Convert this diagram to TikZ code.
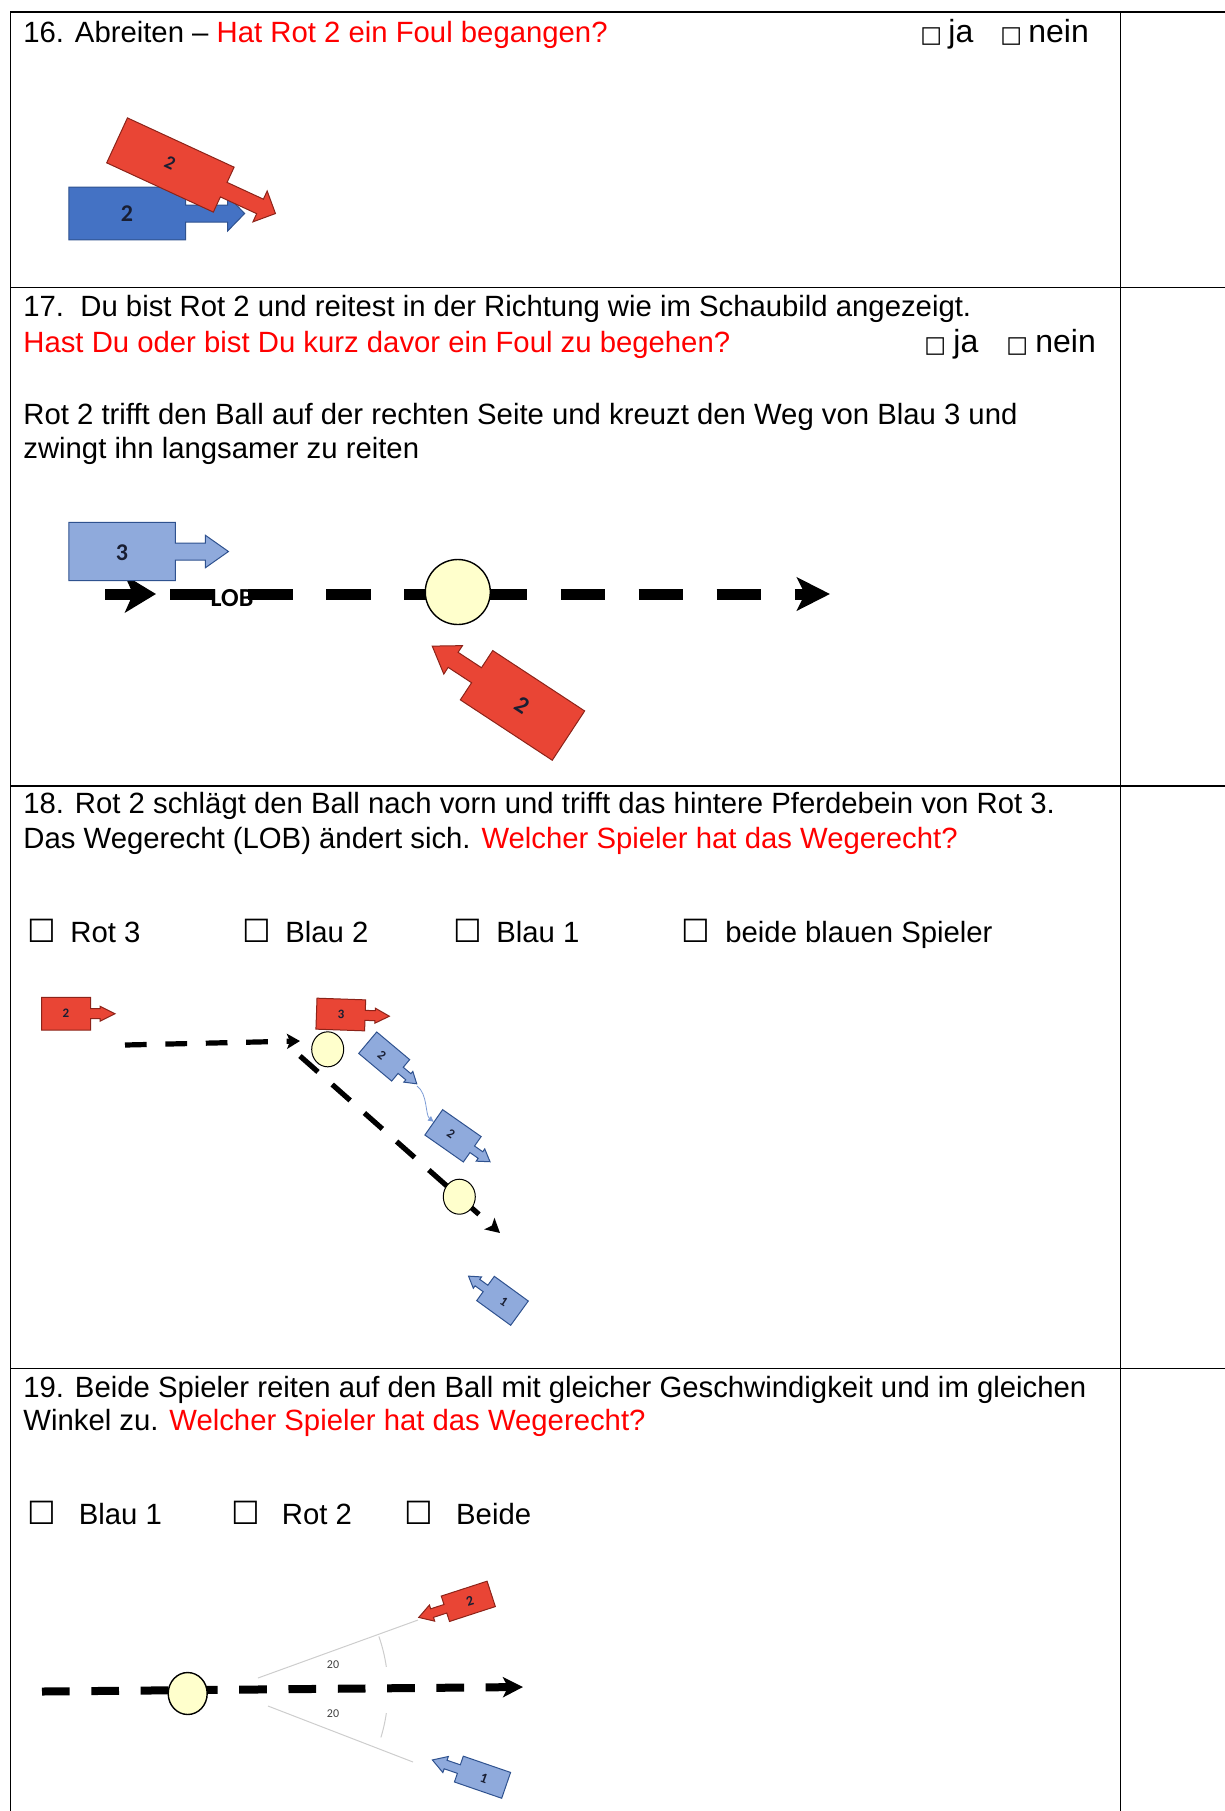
\documentclass[tikz,border=0pt]{standalone}
\usepackage{fontspec}
\setmainfont{Liberation Sans}[Ligatures=NoCommon]
\newfontfamily\carlito{Carlito}
\newfontfamily\symbfont{DejaVu Sans}
\usetikzlibrary{arrows.meta,positioning,calc}

\definecolor{qred}{RGB}{255,0,0}
\definecolor{horsered}{RGB}{233,69,53}
\definecolor{horsereddark}{RGB}{140,35,25}
\definecolor{horseblue}{RGB}{68,114,196}
\definecolor{horsebluedark}{RGB}{47,82,143}
\definecolor{horselight}{RGB}{143,170,220}
\definecolor{ballyellow}{RGB}{255,255,204}
\definecolor{anglegray}{RGB}{205,205,205}
\definecolor{numink}{RGB}{25,30,50}

\tikzset{
  txt/.style={anchor=base west, inner sep=0pt, font=\fontsize{14.65}{17}\selectfont},
  yesno/.style={anchor=base west, inner sep=0pt, font=\fontsize{16}{18}\selectfont},
  smallbox/.style={anchor=base west, inner sep=0pt, font=\symbfont\fontsize{11.5}{12}\selectfont},
  bigbox/.style={anchor=base west, inner sep=0pt, font=\symbfont\fontsize{16}{18}\selectfont},
  hrule/.style={line width=0.85pt},
  vrule/.style={line width=0.5pt},
  redhorse/.style={fill=horsered, draw=horsereddark, line width=0.5pt},
  bluehorse/.style={fill=horseblue, draw=horsebluedark, line width=0.5pt},
  lighthorse/.style={fill=horselight, draw=horsebluedark, line width=0.5pt},
  num/.style={inner sep=0pt, text=numink, font=\carlito\bfseries\fontsize{#1}{#1}\selectfont},
  num/.default=12,
  ball/.style={fill=ballyellow, draw=black, line width=0.7pt},
  lob/.style={line width=#1, line cap=butt},
  angleline/.style={draw=anglegray, line width=0.5pt},
  % rider with horse: rectangle plus arrow pointing along local +x
  pics/horse/.style n args={6}{code={%
    \draw[pic actions] (-#1/2,-#2/2) -- (#1/2,-#2/2) -- (#1/2,-#4/2) -- (#1/2+#3,-#4/2)
      -- (#1/2+#3,-#6/2) -- (#1/2+#3+#5,0) -- (#1/2+#3,#6/2) -- (#1/2+#3,#4/2)
      -- (#1/2,#4/2) -- (#1/2,#2/2) -- (-#1/2,#2/2) -- cycle;
  }},
}

\begin{document}
\begin{tikzpicture}[x=0.5pt, y=-0.5pt]
\useasboundingbox (0,0) rectangle (1225,1811);

% table
\draw[hrule] (10,12) -- (1225,12);
\draw[hrule] (10,287.5) -- (1225,287.5);
\draw[hrule] (10,786) -- (1225,786);
\draw[hrule] (10,1368.5) -- (1225,1368.5);
\draw[vrule] (10,12) -- (10,1811);
\draw[vrule] (1120,12) -- (1120,1811);

% --- 16 ---
\node[txt] (q16) at (23,42.7) {16. Abreiten – \textcolor{qred}{Hat Rot 2 ein Foul begangen?}};
\node[smallbox] (b16a) at (920,42.7) {□};
\node[yesno] (ja16) at (948,42.7) {ja};
\node[smallbox] (b16b) at (1000,42.7) {□};
\node[yesno] (nein16) at (1028,42.7) {nein};

\pic[bluehorse] (blue16) at (127.3,213.5) {horse={116.7}{52.6}{42}{17}{17}{35}};
\node[num] (l16b) at (127,214) {2};
\pic[redhorse, rotate=-24.8] (red16) at (170.4,165) {horse={117.5}{49.5}{40}{16}{17}{34}};
\node[num=9.5, rotate=-25] (l16r) at (170,163) {2};

% --- 17 ---
\node[txt] (q17a) at (23,316) {17.\ \ Du bist Rot 2 und reitest in der Richtung wie im Schaubild angezeigt.};
\node[txt, text=qred] (q17b) at (23,352.7) {Hast Du oder bist Du kurz davor ein Foul zu begehen?};
\node[smallbox] (b17a) at (924,352.7) {□};
\node[yesno] (ja17) at (953,352.7) {ja};
\node[smallbox] (b17b) at (1006,352.7) {□};
\node[yesno] (nein17) at (1035,352.7) {nein};
\node[txt] (q17c) at (23,424.5) {Rot 2 trifft den Ball auf der rechten Seite und kreuzt den Weg von Blau 3 und};
\node[txt] (q17d) at (23,458.3) {zwingt ihn langsamer zu reiten};

\coordinate (go17s) at (105,594);
\coordinate (go17e) at (156,594);
\coordinate (lob17s) at (170,594);
\coordinate (lob17e) at (830,594);
\draw[lob=5.5pt, -{Stealth[length=15.5pt,width=18.5pt,inset=4pt]}] (go17s) -- (go17e);
\draw[lob=5.5pt, dash pattern=on 22.25pt off 16.8pt, -{Stealth[length=16.5pt,width=16.5pt,inset=4pt]}] (lob17s) -- (lob17e);
\node[inner sep=0pt, font=\carlito\bfseries\fontsize{13}{13}\selectfont] (lob17) at (232,598) {LOB};
\draw[ball] (457.8,592) circle[radius=32.5];

\pic[lighthorse] (blue17) at (122.2,551.5) {horse={106.5}{58.4}{30}{17}{23}{32.4}};
\node[num] (l17b) at (122,553) {3};
\pic[redhorse, rotate=-213.3] (red17) at (522.5,705.4) {horse={110}{59}{28}{18}{25}{34}};
\node[num, rotate=-33] (l17r) at (522,705) {2};

% --- 18 ---
\node[txt] (q18a) at (23,813.7) {18. Rot 2 schlägt den Ball nach vorn und trifft das hintere Pferdebein von Rot 3.};
\node[txt] (q18b) at (23,848) {Das Wegerecht (LOB) ändert sich. \textcolor{qred}{Welcher Spieler hat das Wegerecht?}};
\node[bigbox] (b18a) at (27,942) {☐};
\node[txt] (o18a) at (70,942) {Rot 3};
\node[bigbox] (b18b) at (242,942) {☐};
\node[txt] (o18b) at (285,942) {Blau 2};
\node[bigbox] (b18c) at (453.5,942) {☐};
\node[txt] (o18c) at (496,942) {Blau 1};
\node[bigbox] (b18d) at (681.5,942) {☐};
\node[txt] (o18d) at (725,942) {beide blauen Spieler};

\coordinate (lob18s) at (125,1045);
\coordinate (lob18e) at (300,1041);
\coordinate (hit18s) at (300,1056);
\coordinate (hit18e) at (500,1233);
\draw[lob=2.6pt, dash pattern=on 10.85pt off 9.35pt, -{Stealth[length=6.5pt,width=7.5pt,inset=1.5pt]}] (lob18s) -- (lob18e);
\draw[lob=2.6pt, dash pattern=on 12pt off 9.5pt, -{Stealth[length=7pt,width=7.5pt,inset=1.5pt]}] (hit18s) -- (hit18e);
\draw[ball, line width=0.5pt] (327.7,1049.3) ellipse[x radius=16, y radius=17.5];
\draw[ball, line width=0.5pt] (459.3,1196.7) ellipse[x radius=16, y radius=17.5];

\pic[redhorse] (red18a) at (66.2,1013.7) {horse={49}{32.7}{9.3}{10}{15}{15}};
\node[num=6.5] (l18a) at (66,1013.5) {2};
\pic[redhorse, rotate=-2] (red18b) at (340.8,1014.5) {horse={48.7}{31}{10}{10}{14.3}{15}};
\node[num=6.5, rotate=-2] (l18b) at (341,1014.5) {3};
\pic[lighthorse, rotate=-40] (blue18a) at (384.2,1056.5) {horse={43}{28}{10}{8}{11}{14}};
\node[num=6.5, rotate=-40] (l18c) at (382,1055) {2};
\pic[lighthorse, rotate=-35] (blue18b) at (453,1135.8) {horse={47}{31}{10}{8}{11.7}{15}};
\node[num=6.5, rotate=-35] (l18d) at (451,1134) {2};
\pic[lighthorse, rotate=-216] (blue18c) at (502.5,1300.8) {horse={42}{30}{10}{8}{11}{14}};
\node[num=6.5, rotate=-33] (l18e) at (504,1302) {1};
\coordinate (move18s) at (417,1086);
\coordinate (move18e) at (434,1122);
\draw[horseblue!70, line width=0.4pt, -{Latex[length=3pt,width=3pt]}] (move18s) .. controls (428,1094) and (425,1115) .. (move18e);

% --- 19 ---
\node[txt] (q19a) at (23,1397.7) {19. Beide Spieler reiten auf den Ball mit gleicher Geschwindigkeit und im gleichen};
\node[txt] (q19b) at (23,1430.7) {Winkel zu. \textcolor{qred}{Welcher Spieler hat das Wegerecht?}};
\node[bigbox] (b19a) at (27,1524.3) {☐};
\node[txt] (o19a) at (78.5,1524.3) {Blau 1};
\node[bigbox] (b19b) at (231,1524.3) {☐};
\node[txt] (o19b) at (281.5,1524.3) {Rot 2};
\node[bigbox] (b19c) at (404,1524.3) {☐};
\node[txt] (o19c) at (455.8,1524.3) {Beide};

\coordinate (vtx19) at (226,1690);
\coordinate (up19s) at (258,1678);
\coordinate (up19e) at (418,1620);
\coordinate (dn19s) at (268,1706);
\coordinate (dn19e) at (413,1762);
\draw[angleline] (up19s) -- (up19e);
\draw[angleline] (dn19s) -- (dn19e);
\draw[angleline] (vtx19) ++(-19.3:162) arc[start angle=-19.3, end angle=-8.2, radius=162];
\draw[angleline] (vtx19) ++(8.2:162) arc[start angle=8.2, end angle=17, radius=162];
\node[inner sep=0pt, text=black!75, font=\carlito\fontsize{6}{6}\selectfont] (ang19a) at (333,1665) {20};
\node[inner sep=0pt, text=black!75, font=\carlito\fontsize{6}{6}\selectfont] (ang19b) at (333,1714) {20};

\coordinate (lob19s) at (42,1691.5);
\coordinate (lob19e) at (523,1687);
\draw[lob=4pt, dash pattern=on 13.85pt off 10.8pt, -{Stealth[length=10pt,width=10pt,inset=2.5pt]}] (lob19s) -- (lob19e);
\draw[ball] (187.7,1693.5) ellipse[x radius=19.5, y radius=21];

\pic[redhorse, rotate=-162] (red19) at (468.3,1601.3) {horse={48.2}{26.7}{14}{9}{14}{17}};
\node[num=7, rotate=17] (l19r) at (470,1601) {2};
\pic[lighthorse, rotate=-199] (blue19) at (482.5,1777.2) {horse={50}{27.3}{14}{9}{14}{17}};
\node[num=7, rotate=-20] (l19b) at (484,1778) {1};
\end{tikzpicture}
\end{document}
